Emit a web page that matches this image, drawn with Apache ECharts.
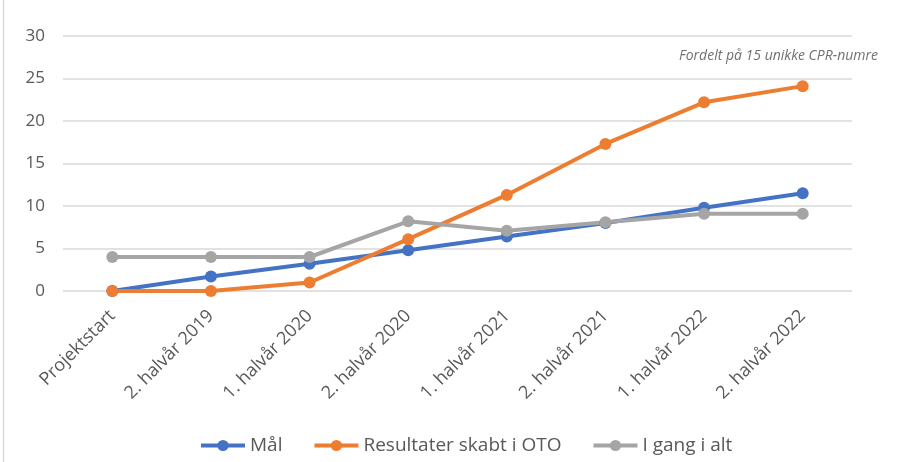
<!DOCTYPE html>
<html>
<head>
<meta charset="utf-8">
<script src="https://cdn.jsdelivr.net/npm/echarts@6/dist/echarts.min.js"></script>
<style>
  html, body { margin: 0; padding: 0; background: #fff; }
  #container1 { width: 897px; height: 462px; }
</style>
</head>
<body>
<div id="container1"></div>
<script>
var categories = ['Projektstart', '2. halvår 2019', '1. halvår 2020', '2. halvår 2020',
    '1. halvår 2021', '2. halvår 2021', '1. halvår 2022', '2. halvår 2022'];
var maal = [0, 1.7, 3.2, 4.8, 6.4, 8.0, 9.8, 11.5];
var resultater = [0, 0, 1.0, 6.1, 11.3, 17.3, 22.2, 24.1];
var iGang = [4, 4, 4, 8.2, 7.1, 8.1, 9.1, 9.1];
var note = 'Fordelt på 15 unikke CPR-numre';

var dom = document.getElementById("container1");
var myChart = echarts.init(dom);
var font = '"Open Sans", "Noto Sans", sans-serif';

function serie(name, data, color) {
    return {
        name: name,
        type: 'line',
        data: data,
        symbol: 'circle',
        symbolSize: 12,
        lineStyle: { width: 4, color: color },
        itemStyle: { color: color },
        z: 2
    };
}

var option = {
    color: ['#4472C4', '#ED7D31', '#A5A5A5'],
    textStyle: { fontFamily: font },
    animation: false,
    grid: { left: 63, right: 45, top: 36, bottom: 171 },
    legend: {
        left: 194,
        bottom: 2,
        itemWidth: 44,
        itemHeight: 14,
        itemGap: 30,
        lineStyle: { width: 4 },
        textStyle: { fontSize: 19, color: '#595959', fontFamily: font },
        data: ['Mål', 'Resultater skabt i OTO', 'I gang i alt']
    },
    graphic: [
        {
            type: 'line',
            shape: { x1: 3.5, y1: 0, x2: 3.5, y2: 462 },
            style: { stroke: '#d9d9d9', lineWidth: 1.5 }
        },
        {
            type: 'text',
            right: 19,
            top: 49,
            style: {
                text: note,
                fill: '#707070',
                font: 'italic 14px ' + font
            }
        }
    ],
    xAxis: {
        type: 'category',
        data: categories,
        axisLine: { show: false },
        axisTick: { show: false },
        axisLabel: {
            rotate: 45,
            fontSize: 18,
            color: '#595959',
            margin: 22,
            interval: 0
        }
    },
    yAxis: {
        type: 'value',
        min: 0,
        max: 30,
        interval: 5,
        axisLabel: { fontSize: 17, color: '#595959', margin: 18 },
        splitLine: { lineStyle: { color: '#d9d9d9', width: 1.5 } }
    },
    series: [
        serie('Mål', maal, '#4472C4'),
        serie('Resultater skabt i OTO', resultater, '#ED7D31'),
        serie('I gang i alt', iGang, '#A5A5A5')
    ]
};

myChart.setOption(option, true);
</script>
</body>
</html>
